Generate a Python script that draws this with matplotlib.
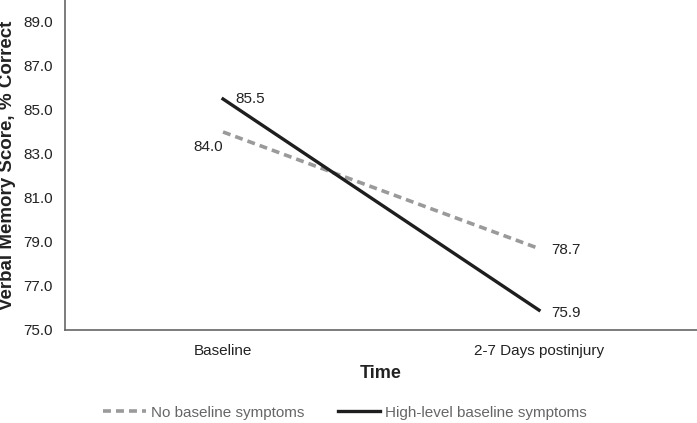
import matplotlib
matplotlib.use("Agg")
import matplotlib.pyplot as plt

plt.rcParams['font.family'] = ['Liberation Sans', 'DejaVu Sans']

times = ["Baseline", "2-7 Days postinjury"]
no_symptoms = [84.0, 78.7]
high_symptoms = [85.5, 75.9]
y_ticks = [75.0, 77.0, 79.0, 81.0, 83.0, 85.0, 87.0, 89.0]

fig = plt.figure(figsize=(6.97, 4.23), dpi=100)
ax = fig.add_axes([0.0933, 0.22, 0.9067, 0.78])

x = list(range(len(times)))
ax.plot(x, no_symptoms, color="#9a9a9a", lw=2.6, ls=(0, (2.2, 1.4)),
        label="No baseline symptoms")
ax.plot(x, high_symptoms, color="#1e1e1e", lw=2.4,
        label="High-level baseline symptoms")

ax.annotate(f"{no_symptoms[0]:.1f}", (x[0], no_symptoms[0]), xytext=(0, -14),
            textcoords="offset points", fontsize=11, color="#222222", ha="right")
ax.annotate(f"{high_symptoms[0]:.1f}", (x[0], high_symptoms[0]), xytext=(9, -3),
            textcoords="offset points", fontsize=11, color="#222222")
ax.annotate(f"{no_symptoms[1]:.1f}", (x[1], no_symptoms[1]), xytext=(9, -4),
            textcoords="offset points", fontsize=11, color="#222222")
ax.annotate(f"{high_symptoms[1]:.1f}", (x[1], high_symptoms[1]), xytext=(9, -5),
            textcoords="offset points", fontsize=11, color="#222222")

ax.set_xlim(-0.5, 1.5)
ax.set_ylim(75, 90)
ax.set_xticks(x)
ax.set_xticklabels(times, fontsize=11, color="#222222")
ax.set_yticks(y_ticks)
ax.set_yticklabels([f"{v:.1f}" for v in y_ticks], fontsize=11, color="#222222")
ax.tick_params(length=0, pad=9)
ax.tick_params(axis="x", pad=10)

for side in ["top", "right"]:
    ax.spines[side].set_visible(False)
for side in ["left", "bottom"]:
    ax.spines[side].set_color("#666666")
    ax.spines[side].set_linewidth(1.2)

ax.set_ylabel("Verbal Memory Score, % Correct", fontsize=13.5, fontweight="bold",
              color="#222222", labelpad=5)
ax.set_xlabel("Time", fontsize=13, fontweight="bold", color="#222222", labelpad=5)

leg = fig.legend(loc="lower center", bbox_to_anchor=(0.495, -0.025), ncol=2,
                 frameon=False, fontsize=11, handlelength=2.8, handletextpad=0.3,
                 columnspacing=2.2)
for t in leg.get_texts():
    t.set_color("#666666")

fig.savefig("out.png", dpi=100)
